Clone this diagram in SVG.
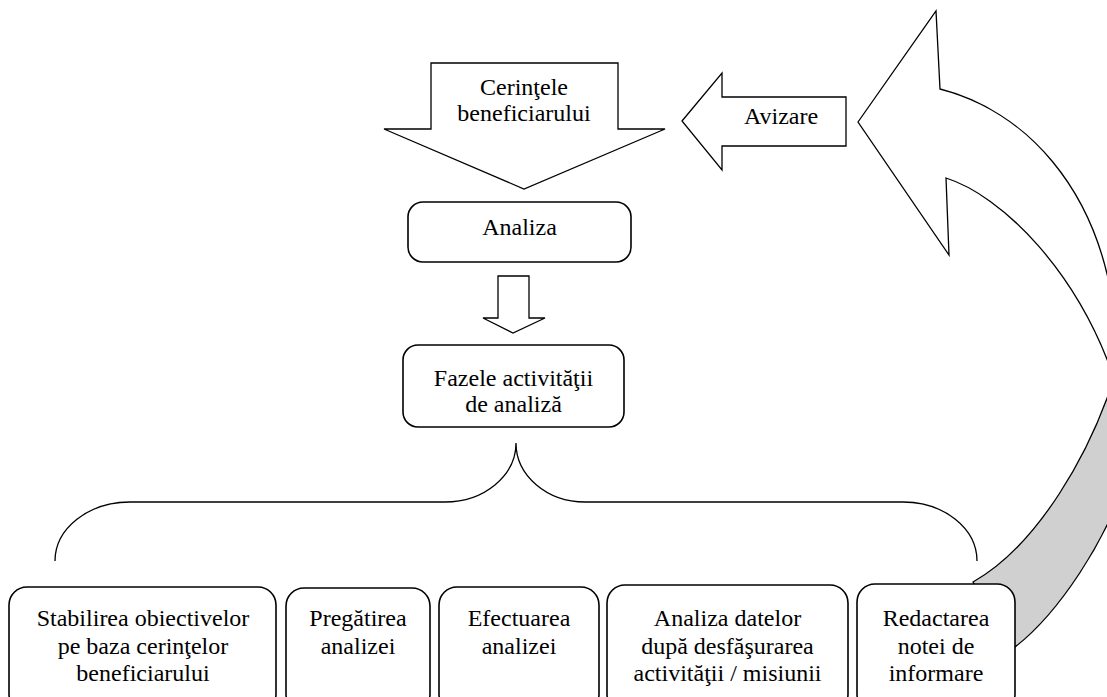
<svg xmlns="http://www.w3.org/2000/svg" width="1107" height="697" viewBox="0 0 1107 697">
<style>
.shape{fill:#fff;stroke:#000;stroke-width:1.3;stroke-linejoin:miter}
.box{fill:#fff;stroke:#000;stroke-width:1.6}
.line{fill:none;stroke:#000;stroke-width:1.3}
text{font-family:"Liberation Serif","Times New Roman",serif;font-size:24px;fill:#000;text-anchor:middle}
</style>
<rect width="1107" height="697" fill="#fff"/>
<g id="connectors">
  <path id="curved-arrow-back" d="M973,582 C1030,550 1095,460 1125,340 L1145,340 L1145,440 L1138,440 C1112,545 1050,620 1015,647 Z" fill="#d0d0d0" stroke="#000" stroke-width="1.3"/>
  <path id="curved-arrow-front" class="shape" d="M858,122 L936,11 L940,89 C1022,110 1100,185 1115,320 L1145,320 L1145,400 L1118,390 C1080,270 1000,195 946,178 L949,255 Z"/>
  <path id="arrow-analiza" class="shape" d="M498,276 L529,276 L529,318 L545,318 L513,333 L483,318 L498,318 Z"/>
  <path id="brace" class="line" d="M55,561 A75,59 0 0 1 130,502 L445,502 A71,59 0 0 0 516,443 A69,59 0 0 0 585,502 L903,502 A74,59 0 0 1 977,561"/>
</g>
<g id="node-cerinte">
  <path class="shape" d="M431,63 L618,63 L618,129 L665,129 L524,189 L384,129 L431,129 Z"/>
  <text x="524" y="95">Cerinţele</text>
  <text x="524" y="121">beneficiarului</text>
</g>
<g id="node-avizare">
  <path class="shape" d="M682,121 L722,73 L722,97 L846,97 L846,146 L722,146 L722,170 Z"/>
  <text x="781" y="124">Avizare</text>
</g>
<g id="node-analiza">
  <rect class="box" x="408" y="202" width="223" height="60" rx="15"/>
  <text x="519.5" y="235">Analiza</text>
</g>
<g id="node-fazele">
  <rect class="box" x="403" y="345" width="221" height="82" rx="15"/>
  <text x="513.5" y="386">Fazele activităţii</text>
  <text x="513.5" y="412">de analiză</text>
</g>
<g id="node-stabilirea">
  <rect class="box" x="9" y="587" width="267" height="125" rx="18"/>
  <text x="143" y="626">Stabilirea obiectivelor</text>
  <text x="143" y="654">pe baza cerinţelor</text>
  <text x="143" y="681">beneficiarului</text>
</g>
<g id="node-pregatirea">
  <rect class="box" x="286" y="588" width="144" height="124" rx="18"/>
  <text x="358" y="626">Pregătirea</text>
  <text x="358" y="654">analizei</text>
</g>
<g id="node-efectuarea">
  <rect class="box" x="439" y="587" width="160" height="125" rx="18"/>
  <text x="519" y="626">Efectuarea</text>
  <text x="519" y="654">analizei</text>
</g>
<g id="node-analiza-datelor">
  <rect class="box" x="607" y="585" width="241" height="127" rx="18"/>
  <text x="727.5" y="626">Analiza datelor</text>
  <text x="727.5" y="654">după desfăşurarea</text>
  <text x="727.5" y="681">activităţii / misiunii</text>
</g>
<g id="node-redactarea">
  <rect class="box" x="857" y="584" width="158" height="128" rx="18"/>
  <text x="936" y="626">Redactarea</text>
  <text x="936" y="654">notei de</text>
  <text x="936" y="681">informare</text>
</g>
</svg>
